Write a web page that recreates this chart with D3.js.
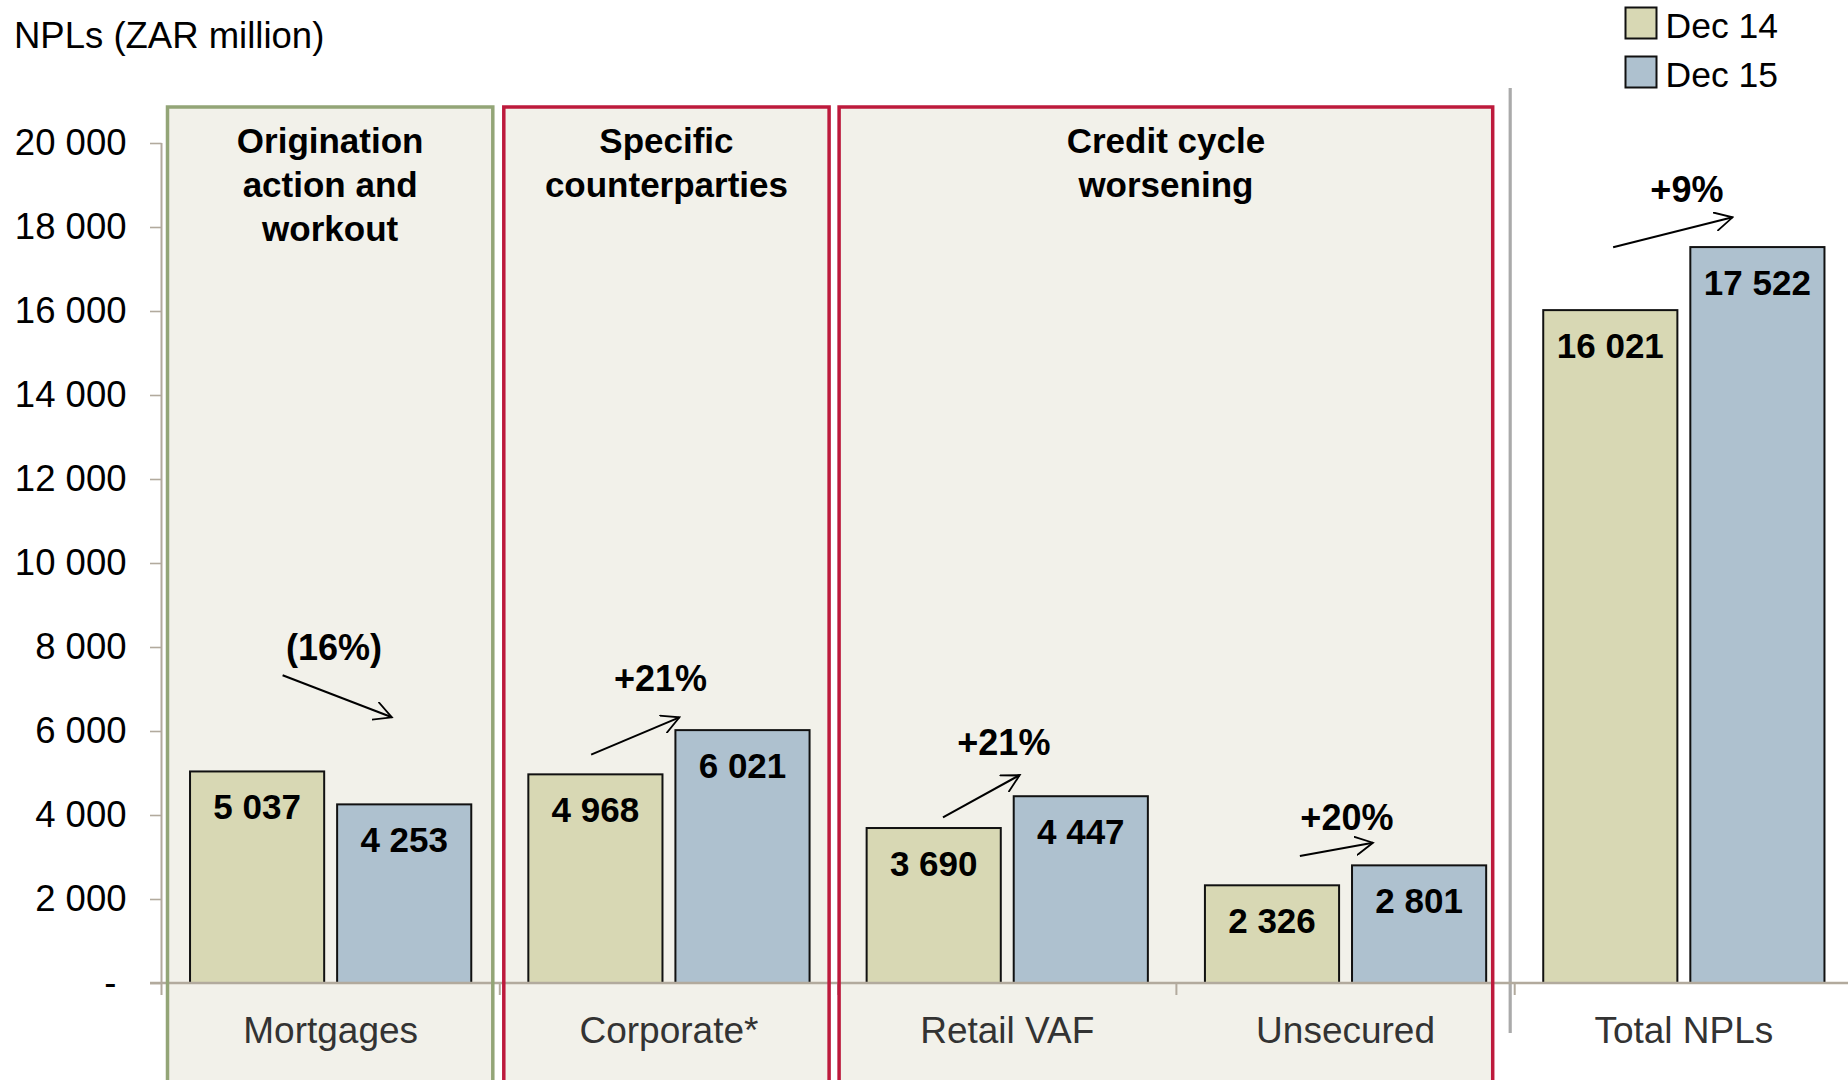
<!DOCTYPE html>
<html>
<head>
<meta charset="utf-8">
<script src="https://cdn.jsdelivr.net/npm/d3@7/dist/d3.min.js"></script>
<style>
  body { margin: 0; background: #fff; }
  svg { display: block; font-family: "Liberation Sans", Arial, Helvetica, sans-serif; }
</style>
</head>
<body>
<div id="canvas"></div>
<script>
// DATA
const categories = ["Mortgages", "Corporate*", "Retail VAF", "Unsecured", "Total NPLs"];
const series = ["Dec 14", "Dec 15"];
const dec14 = [5037, 4968, 3690, 2326, 16021];
const dec15 = [4253, 6021, 4447, 2801, 17522];
const yTicks = [0, 2000, 4000, 6000, 8000, 10000, 12000, 14000, 16000, 18000, 20000];
const yTitle = "NPLs (ZAR million)";

// boxed groups above the bars
const groupTitles = [
  ["Origination", "action and", "workout"],
  ["Specific", "counterparties"],
  ["Credit cycle", "worsening"]
];
const groupFirst = ["Mortgages", "Corporate*", "Retail VAF"];
const groupLast = ["Mortgages", "Corporate*", "Unsecured"];

function drawGraph() {

  // DIMENSIONS
  const width = 1848;
  const height = 1080;

  const colors = { "Dec 14": "#d8d8b4", "Dec 15": "#aec1cf" };
  const axisColor = "#b2aa9d";
  const panelFill = "#f2f1ea";
  const groupStroke = ["#93a577", "#bd1a3c", "#bd1a3c"];

  const svg = d3.select("#canvas")
    .append("svg")
    .attr("width", width)
    .attr("height", height);

  // SCALES
  const x = d3.scaleBand(categories, [161.5, 1853]).padding(0);
  const xs = d3.scaleBand(series, [0, x.bandwidth()])
    .paddingInner(0.088)
    .paddingOuter(0.194);
  const y = d3.scaleLinear([0, 20000], [983, 143]);

  const locale = d3.formatLocale({ decimal: ".", thousands: " ", grouping: [3], currency: ["", ""] });
  const fmt = locale.format(",");
  const pct = d => {
    const p = Math.round(d * 100);
    return p < 0 ? "(" + Math.abs(p) + "%)" : "+" + p + "%";
  };

  const rows = categories.map((c, i) => ({ cat: c, values: [dec14[i], dec15[i]] }));

  // PANELS (fills)
  const panelTop = 107;
  const insetL = [6, 4, 1];
  const insetR = [7, 9, 22];
  const panels = groupTitles.map((t, i) => ({
    lines: t,
    x0: x(groupFirst[i]) + insetL[i],
    x1: x(groupLast[i]) + x.bandwidth() - insetR[i],
    stroke: groupStroke[i]
  }));

  svg.selectAll("rect.panel-bg").data(panels).enter()
    .append("rect")
    .attr("class", "panel-bg")
    .attr("x", d => d.x0)
    .attr("y", panelTop)
    .attr("width", d => d.x1 - d.x0)
    .attr("height", height)
    .style("fill", panelFill);

  // separator before the total
  svg.append("line")
    .attr("x1", x("Total NPLs") - 4.5).attr("x2", x("Total NPLs") - 4.5)
    .attr("y1", 88).attr("y2", 1033)
    .style("stroke", "#aaaaaa")
    .style("stroke-width", 3.2);

  // BARS
  const g = svg.selectAll("g.cat").data(rows).enter()
    .append("g")
    .attr("class", "cat")
    .attr("transform", d => `translate(${x(d.cat)},0)`);

  const bars = g.selectAll("g.bar")
    .data(d => d.values.map((v, i) => ({ s: series[i], v: v })))
    .enter().append("g").attr("class", "bar");

  bars.append("rect")
    .attr("x", d => xs(d.s))
    .attr("y", d => y(d.v))
    .attr("width", xs.bandwidth())
    .attr("height", d => y(0) - y(d.v))
    .style("fill", d => colors[d.s])
    .style("stroke", "#111")
    .style("stroke-width", 2);

  bars.append("text")
    .attr("x", d => xs(d.s) + xs.bandwidth() / 2)
    .attr("y", d => y(d.v) + 48)
    .attr("text-anchor", "middle")
    .style("font-size", "35px")
    .style("font-weight", "bold")
    .style("fill", "#000")
    .text(d => fmt(d.v));

  // AXES
  const yAx = d3.axisLeft(y)
    .tickValues(yTicks)
    .tickSize(11.5)
    .tickPadding(23.5)
    .tickFormat(d => d === 0 ? "-\u00a0" : fmt(d));

  const yaxis = svg.append("g")
    .attr("transform", "translate(161.5,0)")
    .call(yAx);
  yaxis.select(".domain").remove();
  yaxis.selectAll("line").style("stroke", axisColor).style("stroke-width", 1.6);
  yaxis.selectAll("text")
    .style("font-size", "36.5px")
    .style("font-family", "'Liberation Sans', Arial, sans-serif")
    .style("fill", "#000");

  svg.append("line")
    .attr("x1", 161.5).attr("x2", 161.5)
    .attr("y1", y(20000)).attr("y2", y(0) + 12)
    .style("stroke", axisColor)
    .style("stroke-width", 2);

  const xAx = d3.axisBottom(x).tickSize(0).tickPadding(33.5);
  const xaxis = svg.append("g")
    .attr("transform", `translate(0,${y(0)})`)
    .call(xAx);
  xaxis.select(".domain").remove();
  xaxis.selectAll("text")
    .style("font-size", "37px")
    .style("font-family", "'Liberation Sans', Arial, sans-serif")
    .style("fill", "#333");

  // category boundary ticks
  svg.selectAll("line.bound").data(categories.slice(1)).enter()
    .append("line")
    .attr("class", "bound")
    .attr("x1", d => x(d)).attr("x2", d => x(d))
    .attr("y1", y(0)).attr("y2", y(0) + 12)
    .style("stroke", axisColor)
    .style("stroke-width", 2);

  svg.append("line")
    .attr("x1", 150).attr("x2", width)
    .attr("y1", y(0)).attr("y2", y(0))
    .style("stroke", axisColor)
    .style("stroke-width", 2.5);

  // PANEL BORDERS AND TITLES
  svg.selectAll("rect.panel").data(panels).enter()
    .append("rect")
    .attr("class", "panel")
    .attr("x", d => d.x0)
    .attr("y", panelTop)
    .attr("width", d => d.x1 - d.x0)
    .attr("height", height)
    .style("fill", "none")
    .style("stroke", d => d.stroke)
    .style("stroke-width", 3.5);

  const titles = svg.selectAll("text.group").data(panels).enter()
    .append("text")
    .attr("class", "group")
    .attr("text-anchor", "middle")
    .style("font-size", "35px")
    .style("font-weight", "bold")
    .style("fill", "#000");
  titles.selectAll("tspan")
    .data(d => d.lines.map((l, i) => ({ l: l, i: i, cx: (d.x0 + d.x1) / 2 })))
    .enter().append("tspan")
    .attr("x", d => d.cx)
    .attr("y", d => 153 + d.i * 44)
    .text(d => d.l);

  // CHANGE ARROWS (positions as band fraction / value)
  const arrowPos = {
    "Mortgages":  { t: [0.51, 7690],  a: [0.358, 7326], b: [0.681, 6326] },
    "Corporate*": { t: [0.475, 6960], a: [0.27, 5436],  b: [0.531, 6326] },
    "Retail VAF": { t: [0.49, 5429],  a: [0.31, 3945],  b: [0.537, 4952] },
    "Unsecured":  { t: [0.504, 3631], a: [0.365, 3024], b: [0.581, 3340] },
    "Total NPLs": { t: [0.509, 18602], a: [0.291, 17517], b: [0.644, 18231] }
  };

  svg.append("defs").append("marker")
    .attr("id", "head")
    .attr("viewBox", "0 0 20 20")
    .attr("refX", 18).attr("refY", 10)
    .attr("markerWidth", 20).attr("markerHeight", 20)
    .attr("markerUnits", "userSpaceOnUse")
    .attr("orient", "auto")
    .append("path")
    .attr("d", "M0,0.5 L18,10 L0,19.5")
    .style("fill", "none")
    .style("stroke", "#000")
    .style("stroke-width", 1.8);

  const px = (c, f) => x(c) + f * x.bandwidth();

  const ann = svg.selectAll("g.ann").data(rows).enter()
    .append("g").attr("class", "ann");

  ann.append("line")
    .attr("x1", d => px(d.cat, arrowPos[d.cat].a[0]))
    .attr("y1", d => y(arrowPos[d.cat].a[1]))
    .attr("x2", d => px(d.cat, arrowPos[d.cat].b[0]))
    .attr("y2", d => y(arrowPos[d.cat].b[1]))
    .style("stroke", "#000")
    .style("stroke-width", 2)
    .attr("marker-end", "url(#head)");

  ann.append("text")
    .attr("x", d => px(d.cat, arrowPos[d.cat].t[0]))
    .attr("y", d => y(arrowPos[d.cat].t[1]))
    .attr("text-anchor", "middle")
    .style("font-size", "36px")
    .style("font-weight", "bold")
    .text(d => pct(d.values[1] / d.values[0] - 1));

  // TITLE
  svg.append("text")
    .attr("x", 14)
    .attr("y", 48)
    .style("font-size", "36.5px")
    .text(yTitle);

  // LEGEND
  const leg = svg.selectAll("g.legend").data(series).enter()
    .append("g")
    .attr("class", "legend")
    .attr("transform", (d, i) => `translate(1625.5,${7.5 + i * 49})`);
  leg.append("rect")
    .attr("width", 31).attr("height", 31)
    .style("fill", d => colors[d])
    .style("stroke", "#111")
    .style("stroke-width", 2);
  leg.append("text")
    .attr("x", 40)
    .attr("y", 30)
    .style("font-size", "35.5px")
    .text(d => d);
}

drawGraph();
</script>
</body>
</html>
